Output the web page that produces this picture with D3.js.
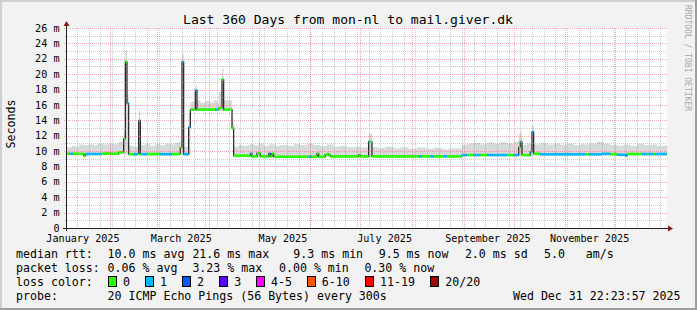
<!DOCTYPE html>
<html><head><meta charset="utf-8">
<script src="https://cdn.jsdelivr.net/npm/d3@7"></script>
<style>
html,body{margin:0;padding:0;background:#f2f2f2;}
svg{display:block;}
text{font-family:"DejaVu Sans Mono",monospace;fill:#000;}
</style>
</head><body>
<svg id="c" width="697" height="310"></svg>
<script>
// ---------- data ----------
const titleText = "Last 360 Days from mon-nl to mail.giver.dk";
const yAxisTitle = "Seconds";
const watermark = "RRDTOOL / TOBI OETIKER";
const startTime = Date.UTC(2025, 0, 5, 22, 23, 57);
const endTime   = Date.UTC(2025, 11, 31, 22, 23, 57);
const totalDays = 360;
const yMax = 26;
const yTickValues = [0, 2, 4, 6, 8, 10, 12, 14, 16, 18, 20, 22, 24, 26];
const yTickLabels = ["0", "2 m", "4 m", "6 m", "8 m", "10 m", "12 m", "14 m", "16 m", "18 m", "20 m", "22 m", "24 m", "26 m"];

// median rtt steps: [start day, median ms, loss class index]
const medianSteps = [
 [0,9.65,0],[2,9.65,1],[4,9.65,0],[10,9.42,0],[11,9.62,1],[21,9.66,0],[24,9.72,0],[26,9.66,0],
 [31,9.85,0],[34,11.6,0],[35,21.6,0],[36,16.2,1],[37,9.6,0],[40,9.6,1],[42,9.62,0],[43,13.95,1],
 [44,9.6,0],[45,9.6,1],[48,9.62,0],[56,9.6,1],[63,9.62,0],[68,10.44,0],[69,21.6,1],[70,9.6,1],
 [73,13.1,1],[74,15.4,0],[77,17.9,1],[78,15.4,0],[89,15.4,1],[90,15.4,0],[91,15.6,0],[93,19.3,0],
 [94,15.4,0],[99,13.0,0],[100,9.4,0],[110,9.68,1],[111,9.3,0],[114,9.7,0],[116,9.3,0],[121,9.68,1],
 [122,9.3,0],[123,9.68,0],[124,9.27,0],[145,9.27,1],[147,9.27,0],[150,9.68,0],[151,9.27,0],
 [155,9.55,0],[156,9.62,0],[157,9.5,0],[158,9.3,0],[175,9.5,0],[176,9.3,0],[181,11.2,1],[182,11.2,0],
 [183,9.3,0],[211,9.3,1],[213,9.3,0],[218,9.3,1],[220,9.3,0],[226,9.3,1],[228,9.3,0],[237,9.48,1],
 [240,9.48,0],[244,9.48,1],[248,9.48,0],[252,9.48,1],[264,9.48,0],[268,9.48,1],[271,10.5,0],
 [272,11.2,1],[273,9.48,0],[278,9.9,1],[279,12.5,1],[280,9.66,0],[284,9.58,1],[311,9.58,0],
 [313,9.58,1],[321,9.65,1],[326,9.6,0],[330,9.52,1],[335,9.4,1],[336,9.62,0],[345,9.62,1],
 [348,9.62,0],[349,9.62,1],[352,9.62,0],[353,9.62,1]
];

// smoke (ping spread) steps: [start day, low ms, high ms]
const smokeSteps = [
 [0,9.45,10.5],[3,9.45,10.65],[5,9.45,10.6],[7,9.45,10.85],[10,9.3,10.8],[13,9.45,10.9],[16,9.45,10.75],
 [18,9.45,10.95],[22,9.45,10.85],[25,9.5,11.0],[28,9.5,10.9],[31,9.6,11.2],[34,9.6,12.4],[35,9.6,23.1],
 [36,9.6,17.3],[37,9.4,10.7],[40,9.4,10.55],[43,9.4,15.2],[44,9.4,10.8],[47,9.4,10.95],[50,9.4,10.7],
 [53,9.4,10.9],[56,9.4,10.75],[59,9.4,11.0],[62,9.4,10.85],[65,9.4,11.1],[68,9.5,11.3],[69,9.5,22.7],
 [70,9.4,10.55],[73,9.5,14.8],[74,15.2,16.4],[77,15.2,18.4],[78,15.2,16.6],[80,15.2,16.3],[83,15.2,16.5],
 [86,15.2,16.3],[88,15.2,16.6],[90,15.2,16.3],[91,15.2,17.7],[93,15.2,20.7],[94,15.2,16.6],[99,12.8,14.2],
 [100,9.2,10.55],[103,9.2,10.8],[106,9.2,10.65],[109,9.2,10.9],[112,9.2,10.75],[115,9.2,10.95],
 [118,9.15,10.7],[121,9.15,10.85],[125,9.15,10.65],[128,9.15,10.8],[132,9.15,10.7],[136,9.15,10.9],
 [140,9.15,10.75],[144,9.15,10.95],[148,9.15,10.8],[152,9.2,10.65],[156,9.2,10.85],[160,9.2,10.6],
 [164,9.2,10.7],[168,9.2,10.5],[172,9.2,10.6],[176,9.2,10.45],[181,9.2,12.3],[183,9.2,10.5],
 [187,9.2,10.4],[191,9.2,10.55],[196,9.2,10.35],[200,9.2,10.5],[205,9.2,10.3],[210,9.2,10.45],
 [215,9.2,10.3],[220,9.2,10.4],[225,9.2,10.25],[230,9.2,10.35],[237,9.35,10.8],[240,9.35,10.95],
 [244,9.35,11.05],[248,9.35,10.9],[252,9.35,11.1],[256,9.35,10.95],[260,9.35,11.15],[264,9.35,11.0],
 [268,9.35,11.2],[271,9.4,12.2],[272,9.4,12.5],[273,9.35,10.8],[276,9.35,11.0],[279,9.4,13.4],
 [280,9.4,10.9],[284,9.4,11.05],[288,9.4,10.85],[292,9.4,11.0],[296,9.4,10.8],[300,9.4,10.95],
 [304,9.4,10.75],[308,9.4,10.9],[313,9.4,11.0],[318,9.4,11.2],[322,9.4,10.95],[326,9.4,10.8],
 [330,9.35,10.7],[334,9.4,10.85],[338,9.4,10.7],[342,9.4,10.95],[346,9.4,10.75],[350,9.4,10.85],
 [354,9.4,10.7]
];

const lossColors = ["#26ff00", "#00b8ff", "#0059ff", "#5e00ff", "#ff00ff", "#ff5500", "#ff0000", "#a00000"];
const lossLabels = ["0", "1", "2", "3", "4-5", "6-10", "11-19", "20/20"];

const rttLegend = ["median rtt:", "10.0 ms avg", "21.6 ms max", "9.3 ms min", "9.5 ms now", "2.0 ms sd", "5.0", "am/s"];
const lossLegend = ["packet loss:", "0.06 % avg", "3.23 % max", "0.00 % min", "0.30 % now"];
const probeLegend = ["probe:", "20 ICMP Echo Pings (56 Bytes) every 300s"];
const lossColorTitle = "loss color:";
const dateStamp = "Wed Dec 31 22:23:57 2025";

// ---------- layout ----------
const W = 697, H = 310;
const X0 = 67, X1 = 667, Y0 = 28, Y1 = 228;
const svg = d3.select("#c");
const dayToDate = d => new Date(startTime + d * 864e5);
const x = d3.scaleUtc().domain([new Date(startTime), new Date(endTime)]).range([X0, X1]);
const y = d3.scaleLinear().domain([0, yMax]).range([Y1, Y0]);
const px = v => Math.round(v) + 0.5;

// background + 3D frame
svg.append("rect").attr("width", W).attr("height", H).attr("fill", "#f2f2f2");
svg.append("path").attr("d", `M0,0H${W}V2H2V${H}H0Z`).attr("fill", "#cfcfcf");
svg.append("path").attr("d", `M${W},0V${H}H0V${H-2}H${W-2}V0Z`).attr("fill", "#9e9e9e");

// canvas
svg.append("rect").attr("x", X0).attr("y", Y0).attr("width", X1 - X0).attr("height", Y1 - Y0).attr("fill", "#fff");

const plot = svg.append("g");

// smoke
const smokePts = smokeSteps.map(s => s).concat([[totalDays, smokeSteps[smokeSteps.length-1][1], smokeSteps[smokeSteps.length-1][2]]]);
plot.append("path")
  .attr("d", d3.area().curve(d3.curveStepAfter)
     .x(d => x(dayToDate(d[0]))).y0(d => y(d[1])).y1(d => y(d[2]))(smokePts))
  .attr("fill", "#d9d9d9");

// median line
const medPts = medianSteps.concat([[totalDays, medianSteps[medianSteps.length-1][1], 0]]);
plot.append("path")
  .attr("d", d3.line().curve(d3.curveStepAfter).x(d => x(dayToDate(d[0]))).y(d => y(d[1]))(medPts))
  .attr("fill", "none").attr("stroke", "#202020").attr("stroke-width", 1.2);

// loss colored bands
medianSteps.forEach((s, i) => {
  const d1 = i + 1 < medianSteps.length ? medianSteps[i+1][0] : totalDays;
  const xa = x(dayToDate(s[0])), xb = x(dayToDate(d1));
  plot.append("rect").attr("x", xa).attr("width", xb - xa)
    .attr("y", y(s[1]) - 1.3).attr("height", 2.6).attr("fill", lossColors[s[2]]);
});

// grid (on top, translucent)
const grid = svg.append("g").attr("shape-rendering", "crispEdges");
const minorCol = "rgba(143,143,143,0.45)", majorCol = "rgba(222,79,79,0.45)";
for (let v = 1; v < yMax; v++) {
  if (v % 2 === 0) continue;
  grid.append("line").attr("x1", X0 - 2).attr("x2", X1).attr("y1", px(y(v))).attr("y2", px(y(v)))
    .attr("stroke", minorCol).attr("stroke-dasharray", "1,1");
}
const weeks = d3.utcSunday.range(new Date(startTime), new Date(endTime));
weeks.forEach(w => {
  const xv = px(x(w));
  grid.append("line").attr("x1", xv).attr("x2", xv).attr("y1", Y0).attr("y2", Y1 + 2)
    .attr("stroke", minorCol).attr("stroke-dasharray", "1,1");
});
yTickValues.forEach(v => {
  grid.append("line").attr("x1", X0 - 3).attr("x2", X1).attr("y1", px(y(v))).attr("y2", px(y(v)))
    .attr("stroke", majorCol).attr("stroke-dasharray", "1,1");
});
const months = d3.utcMonth.range(new Date(startTime), new Date(endTime));
months.forEach(m => {
  const xv = px(x(m));
  grid.append("line").attr("x1", xv).attr("x2", xv).attr("y1", Y0).attr("y2", Y1 + 3)
    .attr("stroke", majorCol).attr("stroke-dasharray", "1,1");
});

// axes
const ax = svg.append("g").attr("shape-rendering", "crispEdges");
ax.append("line").attr("x1", 63).attr("x2", 670).attr("y1", Y1 + 0.5).attr("y2", Y1 + 0.5).attr("stroke", "#1f1f1f");
ax.append("line").attr("x1", X0 - 0.5).attr("x2", X0 - 0.5).attr("y1", Y1 + 3).attr("y2", 24).attr("stroke", "#1f1f1f");
svg.append("path").attr("d", `M668,225.5L673,228.5L668,231.5Z`).attr("fill", "#801f1f");
svg.append("path").attr("d", `M63.5,26L66.5,21L69.5,26Z`).attr("fill", "#801f1f");

// y labels
svg.append("g").selectAll("text").data(yTickValues).join("text")
  .attr("x", 59.5).attr("y", v => y(v) + 3.6).attr("text-anchor", "end")
  .style("font-size", "10.15px").text((v, i) => yTickLabels[i]);

// x labels: every second month, centered mid-month
const labelMonths = d3.utcMonth.every(2).range(new Date(Date.UTC(2025,0,1)), new Date(endTime));
svg.append("g").selectAll("text").data(labelMonths).join("text")
  .attr("x", m => x(new Date(m.getTime() + 14.5 * 864e5))).attr("y", 241.5)
  .attr("text-anchor", "middle").style("font-size", "10.15px")
  .text(m => d3.utcFormat("%B %Y")(m));

// title
svg.append("text").attr("x", 348).attr("y", 24).attr("text-anchor", "middle")
  .style("font-size", "13.05px").text(titleText);

// y axis title
svg.append("text").attr("transform", "translate(14.5,124) rotate(-90)").attr("text-anchor", "middle")
  .style("font-size", "11.6px").text(yAxisTitle);

// watermark
svg.append("text").attr("transform", "translate(684.5,58) rotate(90)").attr("text-anchor", "middle")
  .style("font-size", "8px").style("fill", "#a8a8a8").text(watermark);

// legend
const lg = svg.append("g").style("font-size", "11.6px").attr("xml:space", "preserve");
const row1X = [16, 107.6, 192.4, 293.3, 378.7, 464.9, 544, 585.8];
rttLegend.forEach((t, i) => lg.append("text").attr("x", row1X[i]).attr("y", 258.3).text(t));
const row2X = [16, 107.6, 192.4, 279, 364.4];
lossLegend.forEach((t, i) => lg.append("text").attr("x", row2X[i]).attr("y", 272.2).text(t));
lg.append("text").attr("x", 16).attr("y", 286.1).text(lossColorTitle);
const boxX = [108, 144.9, 181.8, 219.1, 256.4, 307.1, 365.3, 430.2];
const lblX = [123.1, 160, 196.9, 234.2, 271.1, 321.8, 380, 445.3];
lossColors.forEach((c, i) => {
  lg.append("rect").attr("x", Math.round(boxX[i]) + 0.5).attr("y", 276.5).attr("width", 8).attr("height", 10)
    .attr("fill", c).attr("stroke", "#000").attr("stroke-width", 1);
  lg.append("text").attr("x", lblX[i]).attr("y", 286.1).text(lossLabels[i]);
});
lg.append("text").attr("x", 16).attr("y", 300).text(probeLegend[0]);
lg.append("text").attr("x", 107.6).attr("y", 300).text(probeLegend[1]);
lg.append("text").attr("x", 680.5).attr("y", 300).attr("text-anchor", "end").text(dateStamp);
</script>
</body></html>
